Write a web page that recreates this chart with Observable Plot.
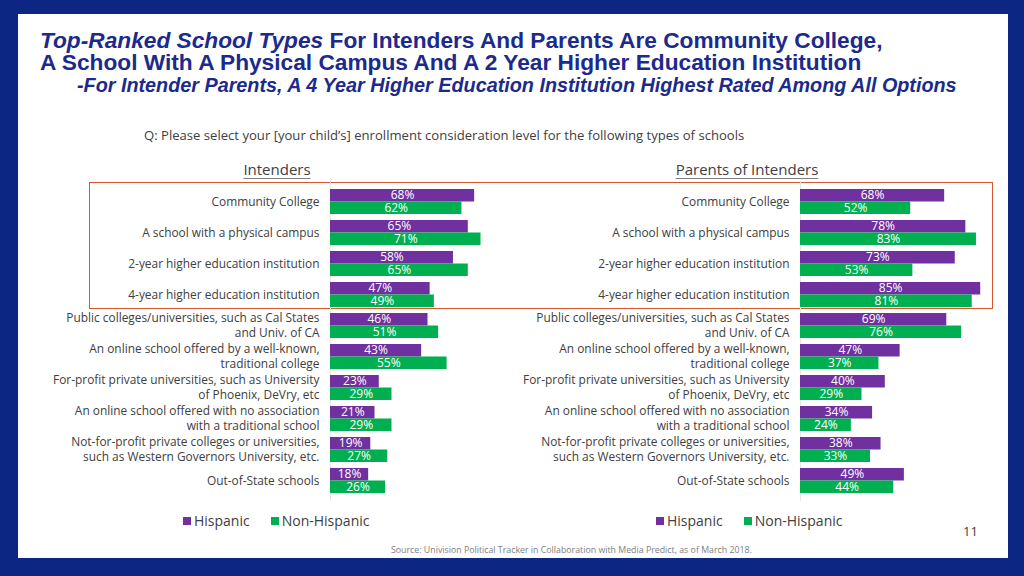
<!DOCTYPE html>
<html>
<head>
<meta charset="utf-8">
<script src="https://cdn.jsdelivr.net/npm/d3@7"></script>
<script src="https://cdn.jsdelivr.net/npm/@observablehq/plot@0.6"></script>
<style>
  html, body { margin: 0; padding: 0; }
  body { width: 1024px; height: 576px; background: #0b2683; position: relative; overflow: hidden; font-family: "Open Sans", sans-serif; }
  #page { position: absolute; left: 18px; top: 14px; width: 990px; height: 544px; background: #fff; }
  .abs { position: absolute; white-space: nowrap; }
  .title { font-family: "Liberation Sans Narrow", "Arial Narrow", sans-serif; font-weight: bold; color: #1c2a8c; }
  .sub { font-size: 15px; color: #404040; text-decoration: underline; text-underline-offset: 3px; text-decoration-thickness: 1px; text-decoration-color: #808080; transform: translateX(-50%); }
  .legend { font-size: 14px; color: #404040; display: flex; align-items: center; }
  .sw { display: inline-block; width: 8px; height: 8px; margin-right: 3px; }
  .item { display: flex; align-items: center; margin-right: 21px; }
  .panel { position: absolute; }
</style>
</head>
<body>
<div id="page"></div>
<div class="abs title" style="left:40px; top:30px; font-size:22.7px; line-height:21.5px;"><i>Top-Ranked School Types</i> For Intenders And Parents Are Community College,<br>A School With A Physical Campus And A 2 Year Higher Education Institution</div>
<div class="abs title" style="left:77px; top:74px; font-size:19.8px; font-style:italic;">-For Intender Parents, A 4 Year Higher Education Institution Highest Rated Among All Options</div>
<div class="abs" style="left:144px; top:126px; font-size:13.1px; color:#404040;">Q: Please select your [your child’s] enrollment consideration level for the following types of schools</div>
<div class="abs sub" id="t1" style="left:277px; top:159px;"></div>
<div class="abs sub" id="t2" style="left:747px; top:159px;"></div>
<div class="abs" style="left:89px; top:182px; width:902px; height:125px; border:1.5px solid #d9572c;"></div>
<div class="panel" id="p1" style="left:60px; top:181px;"></div>
<div class="panel" id="p2" style="left:530px; top:181px;"></div>
<div class="abs legend" id="l1" style="left:183px; top:511px;"></div>
<div class="abs legend" id="l2" style="left:656px; top:511px;"></div>
<div class="abs" style="left:963px; top:522px; font-size:13px; color:#404040;">11</div>
<div class="abs" style="left:391px; top:544px; font-size:8.8px; color:#808080;">Source: Univision Political Tracker in Collaboration with Media Predict, as of March 2018.</div>
<script>
const panelTitles = ["Intenders", "Parents of Intenders"];
const groups = ["Hispanic", "Non-Hispanic"];
const groupColors = ["#7030a0", "#00b050"];
const categories = [
  "Community College",
  "A school with a physical campus",
  "2-year higher education institution",
  "4-year higher education institution",
  "Public colleges/universities, such as Cal States\nand Univ. of CA",
  "An online school offered by a well-known,\ntraditional college",
  "For-profit private universities, such as University\nof Phoenix, DeVry, etc",
  "An online school offered with no association\nwith a traditional school",
  "Not-for-profit private colleges or universities,\nsuch as Western Governors University, etc.",
  "Out-of-State schools"
];
const intendersHispanic    = [68, 65, 58, 47, 46, 43, 23, 21, 19, 18];
const intendersNonHispanic = [62, 71, 65, 49, 51, 55, 29, 29, 27, 26];
const parentsHispanic      = [68, 78, 73, 85, 69, 47, 40, 34, 38, 49];
const parentsNonHispanic   = [52, 83, 53, 81, 76, 37, 29, 24, 33, 44];

document.getElementById("t1").textContent = panelTitles[0];
document.getElementById("t2").textContent = panelTitles[1];

function panel(hisp, nonh) {
  const h = categories.map((c, i) => ({cat: c, group: groups[0], value: hisp[i]}));
  const n = categories.map((c, i) => ({cat: c, group: groups[1], value: nonh[i]}));
  return Plot.plot({
    width: 492, height: 320,
    marginLeft: 270, marginRight: 10, marginTop: 0, marginBottom: 0,
    x: {domain: [0, 100], axis: null},
    y: {domain: categories, padding: 0.2, label: null, axis: null},
    color: {domain: groups, range: groupColors},
    style: {background: "transparent", fontFamily: "'Open Sans', sans-serif", overflow: "visible"},
    marks: [
      Plot.ruleX([0], {stroke: "#e6e6e6"}),
      Plot.barX(h, {x: "value", y: "cat", fill: "group", insetBottom: 12.5}),
      Plot.barX(n, {x: "value", y: "cat", fill: "group", insetTop: 12.5}),
      Plot.text(h, {x: d => d.value / 2, y: "cat", dy: -6.5, text: d => d.value + "%", fill: "white", fontSize: 12}),
      Plot.text(n, {x: d => d.value / 2, y: "cat", dy: 6.5, text: d => d.value + "%", fill: "white", fontSize: 12}),
      Plot.axisY({tickSize: 0, tickPadding: 11, dy: -1, fontSize: 11.9, lineHeight: 1.27, fill: "#404040", label: null})
    ]
  });
}
document.getElementById("p1").appendChild(panel(intendersHispanic, intendersNonHispanic));
document.getElementById("p2").appendChild(panel(parentsHispanic, parentsNonHispanic));

for (const id of ["l1", "l2"]) {
  const el = document.getElementById(id);
  groups.forEach((g, i) => {
    const it = document.createElement("span");
    it.className = "item";
    it.innerHTML = `<span class="sw" style="background:${groupColors[i]}"></span>${g}`;
    el.appendChild(it);
  });
}
</script>
</body>
</html>
